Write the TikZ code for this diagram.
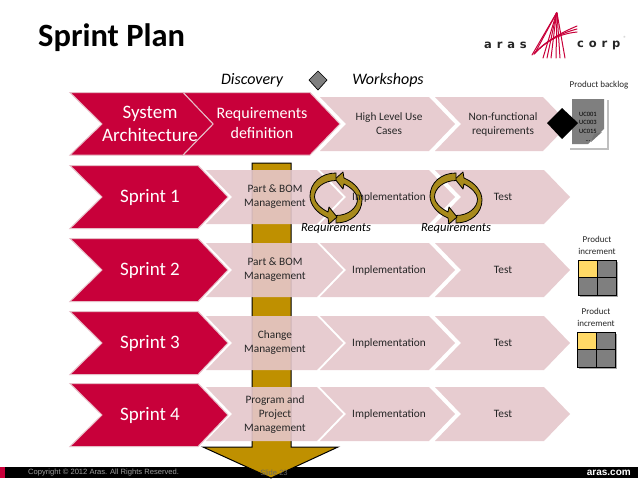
\documentclass[tikz,border=0pt]{standalone}
\usepackage{fontspec}
\setmainfont{Carlito}
\newfontfamily\footfont{Liberation Sans}
\newfontfamily\logofont[LetterSpace=42]{DejaVu Sans}
\definecolor{arasred}{HTML}{C8003A}
\definecolor{rededge}{HTML}{E6BCC6}
\definecolor{pinkfill}{HTML}{E5C7CB}
\definecolor{goldfill}{HTML}{BF9000}
\definecolor{loopgold}{HTML}{A88A1C}
\definecolor{cellgrey}{HTML}{7F7F7F}
\definecolor{cellyellow}{HTML}{FFD966}
\definecolor{inkgrey}{HTML}{262626}
\tikzset{
  redchev/.style={fill=arasred,draw=rededge,line width=1pt,line join=miter},
  pinkchev/.style={fill=pinkfill,fill opacity=.9,draw=none},
  bigtxt/.style={text=white,align=center,font=\fontsize{19}{23.5}\selectfont},
  midtxt/.style={text=white,align=center,font=\fontsize{16}{20}\selectfont},
  smalltxt/.style={text=inkgrey,align=center,font=\fontsize{11.3}{14}\selectfont},
  headtxt/.style={text=black,font=\fontsize{16}{19}\selectfont\itshape},
  reqtxt/.style={text=black,font=\fontsize{12.5}{15}\selectfont\itshape},
  tinytxt/.style={text=inkgrey,align=center,font=\fontsize{9}{12}\selectfont},
  uctxt/.style={text=black,font=\fontsize{6.5}{8}\selectfont},
  foottxt/.style={text=gray!75,font=\footfont\fontsize{7.6}{9}\selectfont,inner sep=0pt},
  looparrow/.style={fill=loopgold,draw=black,line width=.8pt,line join=round},
  cell/.style={draw=black,line width=1pt},
  logotxt/.style={text=inkgrey,font=\logofont\bfseries\fontsize{11.5}{12}\selectfont,inner sep=0pt},
  logoline/.style={draw=arasred,line width=1pt,line cap=round},
}
% #1 = x of left top corner, #2 = centre y, #3 = x of shoulder
\newcommand{\pinkchevron}[3]{%
  \path[pinkchev] (#1,#2-27) -- (#3,#2-27) -- (#3+26,#2) -- (#3,#2+27) -- (#1,#2+27) -- (#1+26,#2) -- cycle;}
\newcommand{\redchevron}[1]{%
  \path[redchev] (70,#1-31.5) -- (198,#1-31.5) -- (228,#1) -- (198,#1+31.5) -- (70,#1+31.5) -- (102,#1) -- cycle;}
\newcommand{\looppair}[2]{%
  \foreach \r in {0,180}{
    \begin{scope}[shift={(#1,#2)},rotate=\r]
      \path[looparrow] (0,25) .. controls (15,25) and (26,15) .. (26,2)
        .. controls (26,-6) and (20,-15) .. (8,-20) -- (7,-26) -- (-1,-19) -- (7,-9) -- (8,-14)
        .. controls (16,-10) and (21.5,-4) .. (21.5,1)
        .. controls (21.5,10) and (12,17.5) .. (0,17.5) -- cycle;
    \end{scope}}}
\newcommand{\gridcells}[2]{%
  \fill[black!35] (#1+1.5,#2+1.5) rectangle (#1+39.5,#2+36.5);
  \path[cell,fill=cellyellow] (#1,#2) rectangle (#1+19,#2+17.5);
  \path[cell,fill=cellgrey] (#1+19,#2) rectangle (#1+38,#2+17.5);
  \path[cell,fill=cellgrey] (#1,#2+17.5) rectangle (#1+19,#2+35);
  \path[cell,fill=cellgrey] (#1+19,#2+17.5) rectangle (#1+38,#2+35);}
\begin{document}
\begin{tikzpicture}[x=1pt,y=-1pt]
\useasboundingbox[fill=white] (0,0) rectangle (638,479);

% footer
\fill[black] (0,467) rectangle (638,478);
\fill[arasred] (0,467) rectangle (5,478);

% gold arrow
\path[fill=goldfill,draw=black,line width=1pt,line join=miter]
  (252,163) -- (291,163) -- (291,447) -- (338,447) -- (271,478) -- (203,447) -- (252,447) -- cycle;

% pink chevrons
\pinkchevron{320}{124}{429}
\pinkchevron{435}{124}{543}
\foreach \cy in {197,270,343,414}{
  \pinkchevron{206}{\cy}{317}
  \pinkchevron{320}{\cy}{429}
  \pinkchevron{435}{\cy}{544}
}

% red chevrons
\path[redchev] (183,92.5) -- (310,92.5) -- (340,124) -- (310,155) -- (183,155) -- (213,124) -- cycle;
\path[redchev] (70,92.5) -- (183,92.5) -- (213,124) -- (183,155) -- (70,155) -- (102,124) -- cycle;
\redchevron{197}
\redchevron{270}
\redchevron{343}
\redchevron{415}

% loops
\looppair{336}{198}
\looppair{456}{198}

% title and headers
\node[anchor=west,inner sep=0pt,text=black,font=\fontsize{32.5}{38}\selectfont\bfseries] (title) at (38,38) {Sprint Plan};
\node[headtxt] (discovery) at (252,80) {Discovery};
\node[headtxt] (workshops) at (388,80) {Workshops};
\path[fill=cellgrey,draw=black,line width=.7pt] (318,71) -- (327,80) -- (318,90) -- (309,80) -- cycle;

% row labels
\node[bigtxt] (sys) at (150,124) {System\\Architecture};
\node[midtxt] (reqdef) at (262,123) {Requirements\\definition};
\node[smalltxt] (hl) at (389,124) {High Level Use\\Cases};
\node[smalltxt] (nf) at (503,124) {Non-functional\\requirements};
\foreach \cy/\n in {197/1,270/2,343/3,415/4}
  \node[bigtxt] (sprint\n) at (150,\cy) {Sprint \n};
\foreach \cy/\n in {197/1,270/2,343/3,414/4}{
  \node[smalltxt] (impl\n) at (389,\cy) {Implementation};
  \node[smalltxt] (test\n) at (503,\cy) {Test};
}
\node[smalltxt] (pb1) at (275,197) {Part \& BOM\\Management};
\node[smalltxt] (pb2) at (275,270) {Part \& BOM\\Management};
\node[smalltxt] (chg) at (275,343) {Change\\Management};
\node[smalltxt] (prog) at (275,415) {Program and\\Project\\Management};
\node[reqtxt] (req1) at (336,228) {Requirements};
\node[reqtxt] (req2) at (456,228) {Requirements};

% product backlog
\node[tinytxt] (backlog) at (599,85) {Product backlog};
\fill[black!25] (570,100) rectangle (609,150);
\fill[white] (569,98) rectangle (607,148);
\fill[cellgrey] (572,99) -- (604,99) -- (604,129) -- (588,144) -- (572,144) -- cycle;
\fill[black!55] (602,132) -- (594,134) -- (591,142) -- cycle;
\node[uctxt] (uc1) at (588,114) {UC001};
\node[uctxt] (uc2) at (588,122.5) {UC003};
\node[uctxt] (uc3) at (588,131) {UC015};
\node[uctxt] (uc4) at (588,141) {...};
\fill[black] (562,108) -- (578,123) -- (562,139) -- (547,123) -- cycle;

% product increments
\node[tinytxt] (inc1) at (597,245) {Product\\increment};
\gridcells{578}{260}
\node[tinytxt] (inc2) at (596,317) {Product\\increment};
\gridcells{577}{332}

% logo
\node[logotxt,anchor=west] (aras) at (484,45) {aras};
\node[logotxt,anchor=west] (corp) at (577,45) {corp};
\foreach \fx/\fy in {532/55,535/53,543/58,547/58,551/58}
  \draw[logoline] (556.5,13) -- (\fx,\fy);
\foreach \fx/\fy in {556/58,560/58,565/58}
  \draw[logoline] (557,13) -- (\fx,\fy);
\foreach \ey in {26,29,32}
  \draw[logoline] (534,54) .. controls (545,42) and (558,34) .. (577,\ey);
\node[text=gray!60,inner sep=0pt,font=\fontsize{6}{7}\selectfont] (reg) at (625,38) {®};

% footer text
\node[foottxt,anchor=west] (copy) at (28,473) {Copyright © 2012 Aras.  All Rights Reserved.};
\node[foottxt,text=black!60] (slide) at (274,473) {Slide 23};
\node[text=white,inner sep=0pt,anchor=east,font=\footfont\bfseries\fontsize{10}{12}\selectfont] (web) at (631,473) {aras.com};
\end{tikzpicture}
\end{document}
